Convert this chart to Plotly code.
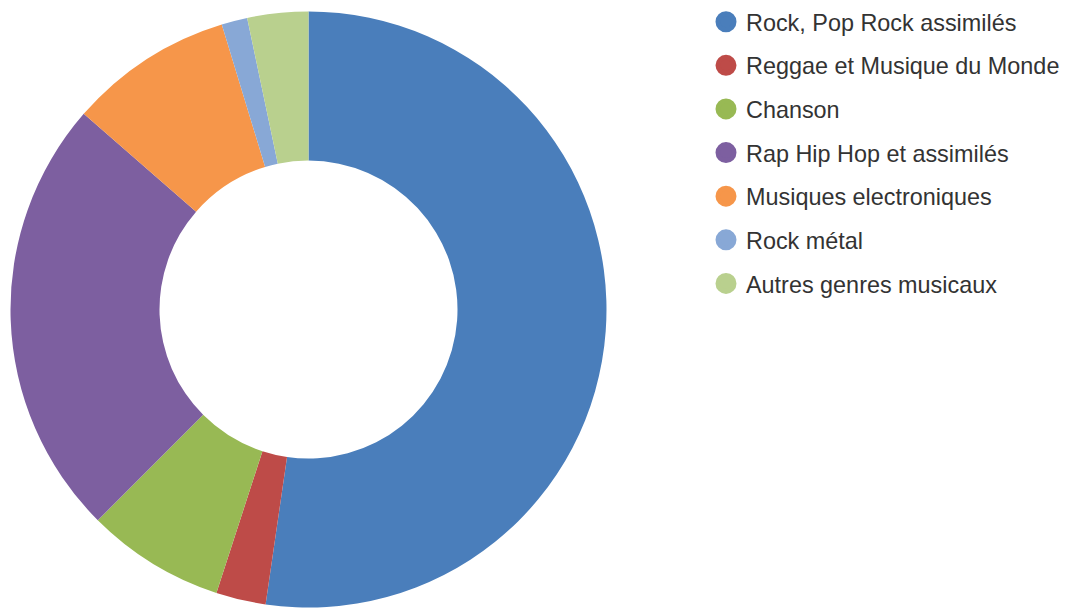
import plotly.graph_objects as go

categories = [
    "Rock, Pop Rock assimilés",
    "Reggae et Musique du Monde",
    "Chanson",
    "Rap Hip Hop et assimilés",
    "Musiques electroniques",
    "Rock métal",
    "Autres genres musicaux",
]
values = [52.3, 2.7, 7.5, 23.9, 8.9, 1.4, 3.3]
colors = ["#4a7ebb", "#be4b48", "#98b954", "#7d5fa0", "#f6964a", "#88a8d6", "#b9d08e"]

W, H = 1073, 608
cx, cy, r = 308.5, 309.5, 298

fig = go.Figure()
fig.add_trace(go.Pie(
    labels=categories, values=values,
    marker=dict(colors=colors, line=dict(width=0)),
    hole=0.5, sort=False, direction="clockwise", rotation=0,
    textinfo="none", hoverinfo="label+percent", showlegend=False,
    domain=dict(x=[(cx - r) / W, (cx + r) / W], y=[(H - cy - r) / H, (H - cy + r) / H]),
))

for i, (name, col) in enumerate(zip(categories, colors)):
    fig.add_trace(go.Scatter(
        x=[None], y=[None], mode="markers", name=name,
        legendgroup=f"g{i}",
        marker=dict(symbol="circle", size=16, color=col, line=dict(width=5, color=col)),
        hoverinfo="skip",
    ))

fig.update_layout(
    width=W, height=H,
    margin=dict(l=0, r=0, t=0, b=0),
    paper_bgcolor="white", plot_bgcolor="white",
    xaxis=dict(visible=False), yaxis=dict(visible=False),
    legend=dict(
        x=706 / W, y=1.0, xanchor="left", yanchor="top",
        font=dict(family="Liberation Sans, Arial, sans-serif", size=23.4, color="#333333"),
        itemsizing="trace", tracegroupgap=10.2,
        bgcolor="rgba(0,0,0,0)",
    ),
)

fig.write_html(
    "out.html",
    config={"displayModeBar": False},
    post_script="document.body.style.margin='0';document.body.style.overflow='hidden';",
)
